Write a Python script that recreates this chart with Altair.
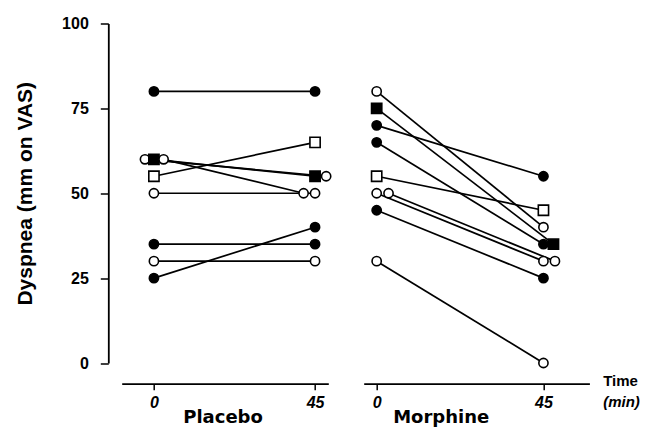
import altair as alt
import pandas as pd

# ---- data ----
times = [0, 45]

placebo_subject = ["P1", "P2", "P3", "P4", "P5", "P6", "P7", "P8", "P9"]
placebo_shape = ["circle", "circle", "square", "circle", "square", "circle", "circle", "circle", "circle"]
placebo_filled = [True, False, True, False, False, False, True, False, True]
placebo_t0 = [80, 60, 60, 60, 55, 50, 35, 30, 25]
placebo_t45 = [80, 55, 55, 50, 65, 50, 35, 30, 40]
placebo_jit0 = [0, -2.5, 0, 2.7, 0, 0, 0, 0, 0]      # horizontal jitter (min) of overlapping symbols
placebo_jit45 = [0, 3.1, 0, -3.2, 0, 0, 0, 0, 0]

morphine_subject = ["M1", "M2", "M3", "M4", "M5", "M6", "M7", "M8", "M9"]
morphine_shape = ["circle", "square", "circle", "circle", "square", "circle", "circle", "circle", "circle"]
morphine_filled = [False, True, True, True, False, False, False, True, False]
morphine_t0 = [80, 75, 70, 65, 55, 50, 50, 45, 30]
morphine_t45 = [40, 35, 55, 35, 45, 30, 30, 25, 0]
morphine_jit0 = [0, 0, 0, 0, 0, 0, 3.2, 0, 0]
morphine_jit45 = [0, 2.7, 0, 0, 0, 0, 3.1, 0, 0]

y_ticks = [0, 25, 50, 75, 100]


def build(subject, shape, filled, v0, v45, j0, j45):
    rows = []
    for i in range(len(subject)):
        for t, v, j in ((times[0], v0[i], j0[i]), (times[1], v45[i], j45[i])):
            rows.append({"subject": subject[i], "time": t, "x": t + j, "value": v,
                         "shape": shape[i], "filled": "yes" if filled[i] else "no"})
    return pd.DataFrame(rows)


df_p = build(placebo_subject, placebo_shape, placebo_filled, placebo_t0, placebo_t45, placebo_jit0, placebo_jit45)
df_m = build(morphine_subject, morphine_shape, morphine_filled, morphine_t0, morphine_t45, morphine_jit0, morphine_jit45)

shape_scale = alt.Scale(domain=["circle", "square"], range=["circle", "square"])
fill_scale = alt.Scale(domain=["yes", "no"], range=["black", "white"])
size_scale = alt.Scale(domain=["circle", "square"], range=[85, 105])
y_scale = alt.Scale(domain=[0, 100], nice=False, zero=False)


def panel(df, xdom, title, title_x, show_y, width):
    xenc = alt.X("x:Q", scale=alt.Scale(domain=xdom, nice=False, zero=False),
                 axis=alt.Axis(values=times, title=title, offset=20.7, tickSize=6,
                               labelPadding=5, labelFontStyle="italic",
                               titleX=title_x, titleY=39, titleAlign="left",
                               titleAnchor="start", titleBaseline="alphabetic",
                               titleFont="DejaVu Sans", titleFontSize=18,
                               titleFontWeight="bold"))
    if show_y:
        yaxis = alt.Axis(values=y_ticks, title="Dyspnea  (mm on VAS)", offset=13.4,
                         tickSize=8, labelPadding=12, titlePadding=26,
                         titleFontSize=21)
    else:
        yaxis = None
    yenc = alt.Y("value:Q", scale=y_scale, axis=yaxis)
    lines = alt.Chart(df).mark_line(color="black", strokeWidth=1.7).encode(
        x=xenc, y=yenc, detail="subject:N", order="time:Q")
    pts = alt.Chart(df).mark_point(filled=True, stroke="black", strokeWidth=1.6, opacity=1).encode(
        x=xenc, y=yenc,
        shape=alt.Shape("shape:N", scale=shape_scale, legend=None),
        fill=alt.Fill("filled:N", scale=fill_scale, legend=None),
        size=alt.Size("shape:N", scale=size_scale, legend=None))
    return alt.layer(lines, pts).properties(width=width, height=339.5)


left = panel(df_p, [-9.0, 48.7], "Placebo", 61, True, 206.6)
right_base = panel(df_m, [-3.5, 57.4], "Morphine", 29, False, 225.7)

time_lbl = alt.Chart(pd.DataFrame({"t": ["Time"]})).mark_text(
    align="left", baseline="alphabetic", font="Liberation Sans", fontSize=15,
    fontWeight="bold", color="black").encode(
    text="t:N", x=alt.value(239.5), y=alt.value(362.5))
min_lbl = alt.Chart(pd.DataFrame({"t": ["(min)"]})).mark_text(
    align="left", baseline="alphabetic", font="Liberation Sans", fontSize=15,
    fontWeight="bold", fontStyle="italic", color="black").encode(
    text="t:N", x=alt.value(239.5), y=alt.value(383.5))

right = alt.layer(right_base, time_lbl, min_lbl)

chart = alt.hconcat(left, right, spacing=29).properties(
    autosize=alt.AutoSizeParams(type="none"),
    padding={"left": 113.7, "top": 15.5, "right": 519.3, "bottom": 400.5}
).configure_view(stroke=None).configure_axis(
    grid=False, domainColor="black", tickColor="black", domainWidth=1.8, tickWidth=1.5,
    labelFont="Liberation Sans", labelFontSize=16, labelFontWeight="bold", labelColor="black",
    titleFont="Liberation Sans", titleFontWeight="bold", titleColor="black"
)

chart.save("out.html", embed_options={"renderer": "svg", "actions": False})
